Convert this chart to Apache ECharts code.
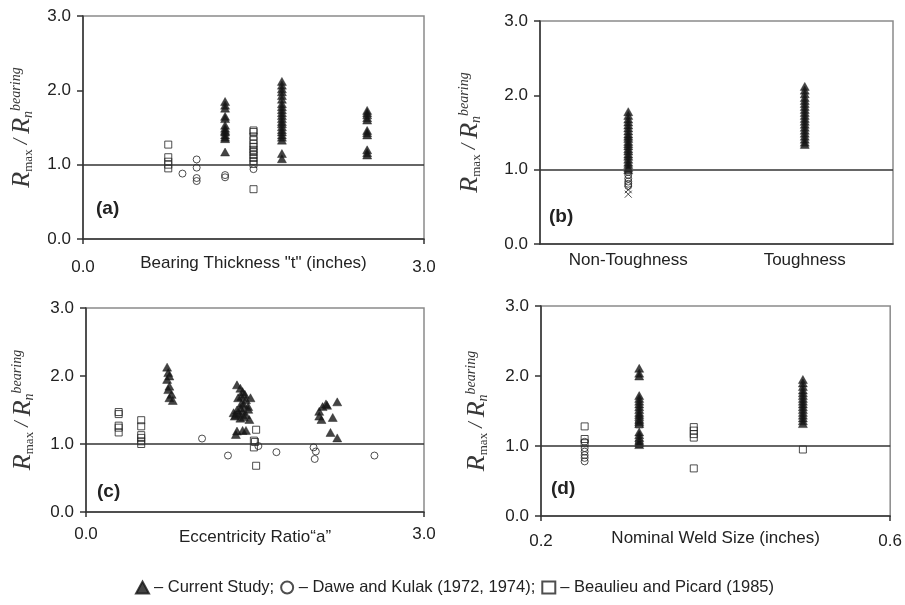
<!DOCTYPE html>
<html>
<head>
<meta charset="utf-8">
<script src="https://cdn.jsdelivr.net/npm/echarts@6/dist/echarts.min.js"></script>
<style>
  html, body { margin: 0; padding: 0; background: #fff; }
  #chart { width: 905px; height: 605px; }
</style>
</head>
<body>
<div id="chart"></div>
<script>
// ---- Strength ratio R_max / R_n(bearing) for the four groupings ----
const ratioTicks = [0, 1, 2, 3];
const referenceRatio = 1.0;

// (a) bearing thickness t (inches)
const thicknessTicks = [0, 3];
const aCurrent = [
  [1.25, 1.85], [1.25, 1.80], [1.25, 1.76], [1.25, 1.65], [1.25, 1.62], [1.25, 1.53], [1.25, 1.49],
  [1.25, 1.46], [1.25, 1.44], [1.25, 1.40], [1.25, 1.37], [1.25, 1.35], [1.25, 1.17],
  [1.75, 2.12], [1.75, 2.07], [1.75, 2.02], [1.75, 1.98], [1.75, 1.93], [1.75, 1.88], [1.75, 1.82],
  [1.75, 1.78], [1.75, 1.74], [1.75, 1.70], [1.75, 1.66], [1.75, 1.62], [1.75, 1.58], [1.75, 1.55],
  [1.75, 1.51], [1.75, 1.47], [1.75, 1.44], [1.75, 1.40], [1.75, 1.37], [1.75, 1.33], [1.75, 1.15], [1.75, 1.08],
  [2.5, 1.73], [2.5, 1.70], [2.5, 1.67], [2.5, 1.63], [2.5, 1.60], [2.5, 1.46], [2.5, 1.43],
  [2.5, 1.40], [2.5, 1.20], [2.5, 1.16], [2.5, 1.13]
];
const aDawe = [
  [0.875, 0.88], [1.0, 1.07], [1.0, 0.96], [1.0, 0.82], [1.0, 0.78], [1.25, 0.86], [1.25, 0.83], [1.5, 0.94]
];
const aBeaulieu = [
  [0.75, 1.27], [0.75, 1.10], [0.75, 1.04], [0.75, 1.00], [0.75, 0.95],
  [1.5, 1.46], [1.5, 1.44], [1.5, 1.38], [1.5, 1.33], [1.5, 1.28], [1.5, 1.24], [1.5, 1.20],
  [1.5, 1.17], [1.5, 1.13], [1.5, 1.09], [1.5, 1.05], [1.5, 1.01], [1.5, 0.67]
];

// (b) toughness grouping
const toughnessCats = ['Non-Toughness', 'Toughness'];
const bCurrentNon = [1.78, 1.73, 1.68, 1.64, 1.60, 1.56, 1.52, 1.48, 1.45, 1.42, 1.38, 1.35, 1.32,
  1.28, 1.25, 1.21, 1.18, 1.14, 1.10, 1.07, 1.03, 1.00];
const bCurrentTough = [2.12, 2.07, 2.02, 1.97, 1.93, 1.89, 1.85, 1.81, 1.77, 1.73, 1.69, 1.65, 1.61,
  1.57, 1.53, 1.49, 1.45, 1.41, 1.37, 1.34];
const bDaweNon = [0.97, 0.93, 0.88, 0.84, 0.81, 0.78];
const bOtherNon = [0.73, 0.67];

// (c) eccentricity ratio a
const eccTicks = [0, 3];
const cCurrent = [
  [0.72, 2.13], [0.73, 2.05], [0.74, 2.00], [0.72, 1.95], [0.74, 1.85], [0.73, 1.80], [0.76, 1.73],
  [0.74, 1.68], [0.77, 1.64],
  [1.34, 1.87], [1.37, 1.82], [1.39, 1.77], [1.41, 1.73], [1.35, 1.68], [1.42, 1.65], [1.46, 1.68],
  [1.38, 1.60], [1.44, 1.55], [1.37, 1.53], [1.34, 1.50], [1.44, 1.51], [1.39, 1.48], [1.31, 1.46],
  [1.42, 1.43], [1.32, 1.41], [1.37, 1.38], [1.45, 1.36], [1.36, 1.45], [1.40, 1.58], [1.38, 1.70],
  [1.33, 1.43], [1.40, 1.40], [1.34, 1.19], [1.33, 1.14], [1.39, 1.20], [1.42, 1.20],
  [2.07, 1.48], [2.10, 1.55], [2.13, 1.59], [2.09, 1.36], [2.07, 1.41], [2.19, 1.39], [2.17, 1.17],
  [2.23, 1.09], [2.23, 1.62], [2.14, 1.57]
];
const cDawe = [
  [1.03, 1.08], [1.26, 0.83], [1.53, 0.97], [1.69, 0.88], [2.02, 0.95], [2.04, 0.89], [2.03, 0.78], [2.56, 0.83]
];
const cBeaulieu = [
  [0.29, 1.47], [0.29, 1.44], [0.29, 1.27], [0.29, 1.24], [0.29, 1.17],
  [0.49, 1.35], [0.49, 1.26], [0.49, 1.13], [0.49, 1.09], [0.49, 1.04], [0.49, 1.00],
  [1.51, 1.21], [1.49, 1.05], [1.50, 1.03], [1.49, 0.95], [1.51, 0.68]
];

// (d) nominal weld size (inches)
const weldTicks = [0.2, 0.6];
const dCurrent = [
  [0.3125, 2.11], [0.3125, 2.04], [0.3125, 2.00], [0.3125, 1.72], [0.3125, 1.68], [0.3125, 1.64],
  [0.3125, 1.60], [0.3125, 1.56], [0.3125, 1.52], [0.3125, 1.48], [0.3125, 1.45], [0.3125, 1.42],
  [0.3125, 1.38], [0.3125, 1.35], [0.3125, 1.32], [0.3125, 1.20], [0.3125, 1.16], [0.3125, 1.12],
  [0.3125, 1.08], [0.3125, 1.05], [0.3125, 1.02],
  [0.5, 1.95], [0.5, 1.90], [0.5, 1.85], [0.5, 1.80], [0.5, 1.76], [0.5, 1.72], [0.5, 1.68],
  [0.5, 1.64], [0.5, 1.60], [0.5, 1.56], [0.5, 1.52], [0.5, 1.48], [0.5, 1.44], [0.5, 1.40],
  [0.5, 1.36], [0.5, 1.32]
];
const dDawe = [[0.25, 1.06], [0.25, 0.97], [0.25, 0.92], [0.25, 0.87], [0.25, 0.83], [0.25, 0.78]];
const dBeaulieu = [
  [0.25, 1.28], [0.25, 1.10], [0.25, 1.04], [0.3125, 1.31], [0.3125, 1.03],
  [0.375, 1.27], [0.375, 1.22], [0.375, 1.17], [0.375, 1.12], [0.375, 0.68], [0.5, 0.95]
];

const SERIES_CURRENT = 'Current Study';
const SERIES_DAWE = 'Dawe and Kulak (1972, 1974)';
const SERIES_BEAULIEU = 'Beaulieu and Picard (1985)';

// ---- styling helpers ----
const SANS = 'Liberation Sans, Arial, sans-serif';
const SERIF = 'Liberation Serif, Times New Roman, serif';
const INK = '#222';

const grids = [
  { left: 83, top: 16, width: 341, height: 223 },
  { left: 540, top: 21, width: 353, height: 223 },
  { left: 86, top: 308, width: 338, height: 204 },
  { left: 541, top: 306, width: 351, height: 210 }
].map(g => Object.assign({ show: true, borderColor: '#8a8a8a', borderWidth: 1.5, backgroundColor: 'transparent' }, g));

// R_max / R_n^bearing, set as rich text on the rotated axis name
const yName = '{R|R}{sub|max}{sl| / }{R|R}{n|n}{sup|bearing}';
const yRich = {
  R: { fontFamily: SERIF, fontStyle: 'italic', fontSize: 26, lineHeight: 26, color: '#383838' },
  sub: { fontFamily: SERIF, fontSize: 13, lineHeight: 13, verticalAlign: 'bottom', color: '#383838' },
  sl: { fontFamily: SERIF, fontStyle: 'italic', fontSize: 20, lineHeight: 26, color: '#383838' },
  n: { fontFamily: SERIF, fontStyle: 'italic', fontSize: 14, lineHeight: 13, verticalAlign: 'bottom', color: '#383838' },
  sup: { fontFamily: SERIF, fontStyle: 'italic', fontSize: 14, lineHeight: 14, verticalAlign: 'top', color: '#383838' }
};
const yNameGaps = [48, 57, 50, 51];

const axisLineStyle = { color: '#333', width: 1.5 };
const fmt1 = v => Number(v).toFixed(1);

function yAxisFor(gridIndex) {
  return {
    type: 'value', gridIndex,
    min: ratioTicks[0], max: ratioTicks[ratioTicks.length - 1], interval: 1,
    name: yName, nameLocation: 'middle', nameRotate: 90, nameGap: yNameGaps[gridIndex], nameMoveOverlap: false,
    nameTextStyle: { rich: yRich },
    axisLine: { show: true, lineStyle: axisLineStyle },
    axisTick: { show: true, inside: false, length: 6, lineStyle: axisLineStyle },
    axisLabel: { formatter: fmt1, margin: 12, fontFamily: SANS, fontSize: 17, color: INK },
    splitLine: { show: false }
  };
}

function valueXAxis(gridIndex, ticks, name, labelMargin, nameGap) {
  return {
    type: 'value', gridIndex,
    min: ticks[0], max: ticks[ticks.length - 1],
    name, nameLocation: 'middle', nameGap, nameMoveOverlap: false,
    nameTextStyle: { fontFamily: SANS, fontSize: 17, color: INK },
    axisLine: { show: true, onZero: false, lineStyle: axisLineStyle },
    axisTick: { show: true, length: 5, customValues: ticks, lineStyle: axisLineStyle },
    axisLabel: {
      customValues: ticks, formatter: fmt1, margin: labelMargin,
      showMinLabel: true, showMaxLabel: true,
      fontFamily: SANS, fontSize: 17, color: INK
    },
    splitLine: { show: false }
  };
}

const xAxes = [
  valueXAxis(0, thicknessTicks, 'Bearing Thickness "t" (inches)', 20, 16),
  {
    type: 'category', gridIndex: 1, data: toughnessCats, boundaryGap: true,
    axisLine: { show: true, onZero: false, lineStyle: axisLineStyle },
    axisTick: { show: false },
    axisLabel: { margin: 8, fontFamily: SANS, fontSize: 17, color: INK, interval: 0 },
    splitLine: { show: false }
  },
  valueXAxis(2, eccTicks, 'Eccentricity Ratio\u201ca\u201d', 14, 17),
  valueXAxis(3, weldTicks, 'Nominal Weld Size (inches)', 17, 14)
];
const yAxes = [0, 1, 2, 3].map(yAxisFor);

const triangleStyle = { symbol: 'triangle', symbolSize: [9, 8], itemStyle: { color: '#151515', borderColor: '#151515', borderWidth: 0.5 } };
const circleStyle = { symbol: 'circle', symbolSize: 7, itemStyle: { color: 'rgba(255,255,255,0)', borderColor: '#222', borderWidth: 1 } };
const squareStyle = { symbol: 'rect', symbolSize: 7, itemStyle: { color: 'rgba(255,255,255,0)', borderColor: '#222', borderWidth: 1 } };
const crossStyle = { symbol: 'path://M0,0L10,10M10,0L0,10', symbolSize: 7, itemStyle: { color: 'none', borderColor: '#222', borderWidth: 1 } };

const refLine = {
  silent: true, symbol: 'none', label: { show: false },
  lineStyle: { color: '#333', width: 1.5, type: 'solid' },
  data: [{ yAxis: referenceRatio }]
};

function scatter(name, idx, data, style, withRef) {
  const s = Object.assign({ type: 'scatter', name, xAxisIndex: idx, yAxisIndex: idx, data, z: 3 }, style);
  if (withRef) s.markLine = refLine;
  return s;
}

const series = [
  scatter(SERIES_CURRENT, 0, aCurrent, triangleStyle, true),
  scatter(SERIES_DAWE, 0, aDawe, circleStyle),
  scatter(SERIES_BEAULIEU, 0, aBeaulieu, squareStyle),

  scatter(SERIES_CURRENT, 1,
    bCurrentNon.map(v => [toughnessCats[0], v]).concat(bCurrentTough.map(v => [toughnessCats[1], v])),
    triangleStyle, true),
  scatter(SERIES_DAWE, 1, bDaweNon.map(v => [toughnessCats[0], v]), circleStyle),
  scatter('Other', 1, bOtherNon.map(v => [toughnessCats[0], v]), crossStyle),

  scatter(SERIES_CURRENT, 2, cCurrent, triangleStyle, true),
  scatter(SERIES_DAWE, 2, cDawe, circleStyle),
  scatter(SERIES_BEAULIEU, 2, cBeaulieu, squareStyle),

  scatter(SERIES_CURRENT, 3, dCurrent, triangleStyle, true),
  scatter(SERIES_DAWE, 3, dDawe, circleStyle),
  scatter(SERIES_BEAULIEU, 3, dBeaulieu, squareStyle)
];

const panelLabel = (text, left, top) => ({
  text, left, top, padding: 0,
  textStyle: { fontFamily: SANS, fontSize: 19, fontWeight: 'bold', color: INK }
});

const legendText = {};
legendText[SERIES_CURRENT] = '\u2013 Current Study;';
legendText[SERIES_DAWE] = '\u2013 Dawe and Kulak (1972, 1974);';
legendText[SERIES_BEAULIEU] = '\u2013 Beaulieu and Picard (1985)';

const chart = echarts.init(document.getElementById('chart'), null, { renderer: 'canvas' });
chart.setOption({
  animation: false,
  backgroundColor: '#fff',
  title: [
    panelLabel('(a)', 96, 199),
    panelLabel('(b)', 549, 207),
    panelLabel('(c)', 97, 482),
    panelLabel('(d)', 551, 479)
  ],
  legend: {
    left: 130, top: 574, itemGap: 6, itemWidth: 13, itemHeight: 12, selectedMode: false,
    data: [
      { name: SERIES_CURRENT, icon: 'triangle' },
      { name: SERIES_DAWE, icon: 'circle' },
      { name: SERIES_BEAULIEU, icon: 'rect' }
    ],
    formatter: n => legendText[n],
    textStyle: { fontFamily: SANS, fontSize: 16.5, color: INK }
  },
  grid: grids,
  xAxis: xAxes,
  yAxis: yAxes,
  series
});
</script>
</body>
</html>
